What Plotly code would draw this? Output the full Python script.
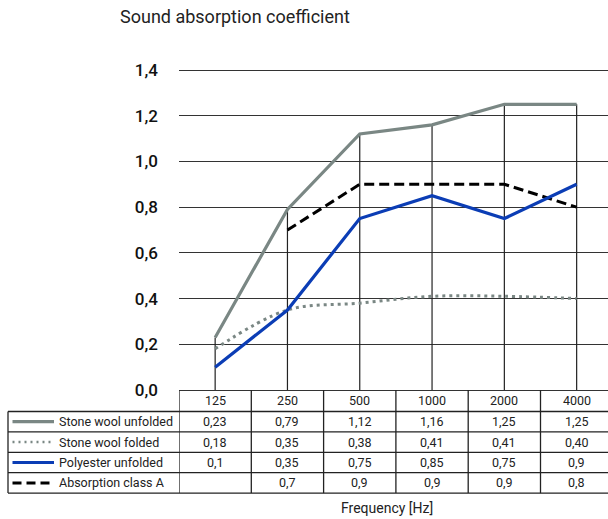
import plotly.graph_objects as go

# ---- data ----
freqs = ["125", "250", "500", "1000", "2000", "4000"]
stone_unfolded = [0.23, 0.79, 1.12, 1.16, 1.25, 1.25]
stone_folded = [0.18, 0.35, 0.38, 0.41, 0.41, 0.40]
polyester = [0.1, 0.35, 0.75, 0.85, 0.75, 0.9]
class_a = [None, 0.7, 0.9, 0.9, 0.9, 0.8]
series_names = ["Stone wool unfolded", "Stone wool folded", "Polyester unfolded", "Absorption class A"]
y_ticks = [0.0, 0.2, 0.4, 0.6, 0.8, 1.0, 1.2, 1.4]

W, H = 608, 519
GRAY = "#7a8784"
BLUE = "#0b3db5"
LINE = "#222222"
FONT = "Roboto"

# pixel geometry
PX_X0 = 179.0          # left of plot (x=0)
COL = 72.3             # px per category
PY_Y0 = 390.0          # y=0
PY_Y14 = 70.0          # y=1.4
PXU = (PY_Y0 - PY_Y14) / 1.4

xmax = (W - PX_X0) / COL
ytop = 1.4 + PY_Y14 / PXU
ybot = -(H - PY_Y0) / PXU


def px(x):
    return x / W


def py(y):
    return (H - y) / H


def fmt(v, two=False):
    if v is None:
        return ""
    s = f"{v:.2f}" if two else f"{v:g}"
    return s.replace(".", ",")


xs = [i + 0.5 for i in range(len(freqs))]

fig = go.Figure()

# vertical drop lines at each frequency up to the top series
vx, vy = [], []
for x, v in zip(xs, stone_unfolded):
    vx += [x, x, None]
    vy += [0, v, None]
fig.add_trace(go.Scatter(x=vx, y=vy, mode="lines", line=dict(color=LINE, width=1.2),
                         hoverinfo="skip", showlegend=False))

fig.add_trace(go.Scatter(x=xs, y=class_a, mode="lines", name=series_names[3],
                         line=dict(color="black", width=3, dash="10px,5px")))
fig.add_trace(go.Scatter(x=xs, y=stone_folded, mode="lines", name=series_names[1],
                         line=dict(color=GRAY, width=3, dash="3px,4px", shape="spline")))
fig.add_trace(go.Scatter(x=xs, y=stone_unfolded, mode="lines", name=series_names[0],
                         line=dict(color=GRAY, width=3.2)))
fig.add_trace(go.Scatter(x=xs, y=polyester, mode="lines", name=series_names[2],
                         line=dict(color=BLUE, width=3.2)))

shapes = []
annotations = []

# table geometry (pixels)
row_tops = [PY_Y0, 411.5, 431.9, 452.3, 472.7, 493.1]
for i in range(len(freqs)):
    shapes.append(dict(type="line", xref="x", yref="paper", x0=i, x1=i,
                       y0=py(row_tops[0]), y1=py(row_tops[-1]), line=dict(color=LINE, width=1.3)))
for r in row_tops[1:]:
    shapes.append(dict(type="line", xref="paper", yref="paper", x0=px(8), x1=1,
                       y0=py(r), y1=py(r), line=dict(color=LINE, width=1.3)))
shapes.append(dict(type="line", xref="paper", yref="paper", x0=px(8), x1=px(8),
                   y0=py(row_tops[1]), y1=py(row_tops[-1]), line=dict(color=LINE, width=1.3)))

TF = dict(family=FONT, size=12.5, color="#222")
hc = (row_tops[0] + row_tops[1]) / 2
for x, f in zip(xs, freqs):
    annotations.append(dict(x=x, y=py(hc), xref="x", yref="paper", text=f, showarrow=False,
                            font=TF, yanchor="middle"))

rows = [
    (stone_unfolded, True, dict(color=GRAY, width=3.2, dash="solid")),
    (stone_folded, True, dict(color=GRAY, width=2.5, dash="2px,4px")),
    (polyester, False, dict(color=BLUE, width=3.2, dash="solid")),
    (class_a, False, dict(color="black", width=3, dash="9px,5px")),
]
for k, (vals, two, ln) in enumerate(rows):
    c = (row_tops[k + 1] + row_tops[k + 2]) / 2
    for x, v in zip(xs, vals):
        annotations.append(dict(x=x, y=py(c), xref="x", yref="paper", text=fmt(v, two),
                                showarrow=False, font=TF, yanchor="middle"))
    shapes.append(dict(type="line", xref="paper", yref="paper", x0=px(12.5), x1=px(54),
                       y0=py(c), y1=py(c), line=ln))
    annotations.append(dict(x=px(57), y=py(c), xref="paper", yref="paper", text=series_names[k],
                            showarrow=False, xanchor="left", yanchor="middle", font=TF))

annotations.append(dict(x=px(234.7), y=py(17), xref="paper", yref="paper",
                        text="Sound absorption coefficient", showarrow=False,
                        font=dict(family=FONT, size=18, color="#222"), yanchor="middle"))
annotations.append(dict(x=px(387), y=py(508), xref="paper", yref="paper",
                        text="Frequency [Hz]", showarrow=False,
                        font=dict(family=FONT, size=14, color="#222"), yanchor="middle"))

fig.update_layout(
    width=W, height=H,
    margin=dict(l=0, r=0, t=0, b=0),
    paper_bgcolor="white", plot_bgcolor="white",
    showlegend=False, hovermode=False,
    shapes=shapes, annotations=annotations,
    xaxis=dict(domain=[PX_X0 / W, 1], range=[0, xmax], showgrid=False, zeroline=False,
               showticklabels=False, showline=False, fixedrange=True),
    yaxis=dict(domain=[0, 1], range=[ybot, ytop], tickvals=y_ticks,
               ticktext=[f"{v:.1f}".replace(".", ",") for v in y_ticks],
               showgrid=True, gridcolor="#333", gridwidth=1.3, zeroline=False,
               showline=False, ticks="", ticklabelstandoff=20,
               tickfont=dict(family=FONT, size=17, color="#111", weight=500), fixedrange=True),
)

fig.write_html("out.html", config={"displayModeBar": False},
               post_script="document.body.style.margin='0';document.body.style.overflow='hidden';")
